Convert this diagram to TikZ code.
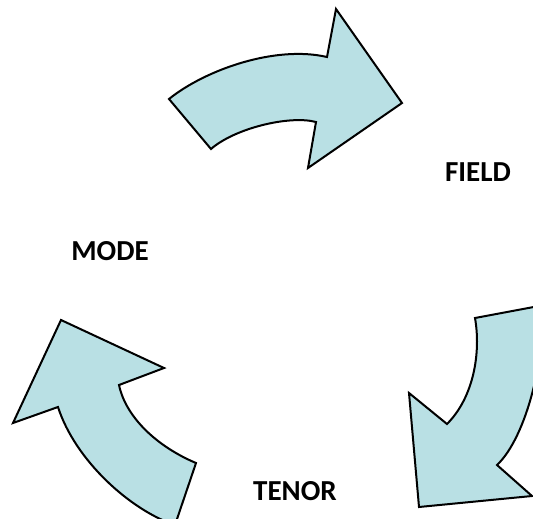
\documentclass[tikz,border=0pt]{standalone}
\usepackage{fontspec}
\setmainfont{Carlito}
\definecolor{arrowfill}{RGB}{185,224,228}
\tikzset{
  bentarrow/.style={draw=black, fill=arrowfill, line width=2pt, line join=miter},
  label/.style={font=\bfseries\fontsize{29}{32}\selectfont, inner sep=0pt}
}
\begin{document}
\begin{tikzpicture}[x=1pt,y=-1pt]
  \useasboundingbox (0,0) rectangle (533,519);
  \begin{scope}
    \clip (0,0) rectangle (533,519);
    % upper arrow, pointing right
    \draw[bentarrow] (169,99) .. controls (205,70) and (275,45) .. (327,57)
      -- (336,9) -- (402,103) -- (308,168) -- (316,122)
      .. controls (290,115) and (235,128) .. (211,149) -- cycle;
    % right arrow, pointing down
    \draw[bentarrow] (539,306) -- (475,318)
      .. controls (481,352) and (474,397) .. (447,424)
      -- (409,393) -- (419,507) -- (532,496) -- (497,465)
      .. controls (527,437) and (548,350) .. (539,306) -- cycle;
    % lower left arrow, pointing up
    \draw[bentarrow] (175,525) .. controls (130,510) and (75,460) .. (58,407)
      -- (13,423) -- (61,320) -- (164,368) -- (119,385)
      .. controls (126,418) and (158,447) .. (196,463) -- cycle;
  \end{scope}
  \node[label] (field) at (478,172) {FIELD};
  \node[label] (mode) at (110,251) {MODE};
  \node[label] (tenor) at (295,491) {TENOR};
\end{tikzpicture}
\end{document}
